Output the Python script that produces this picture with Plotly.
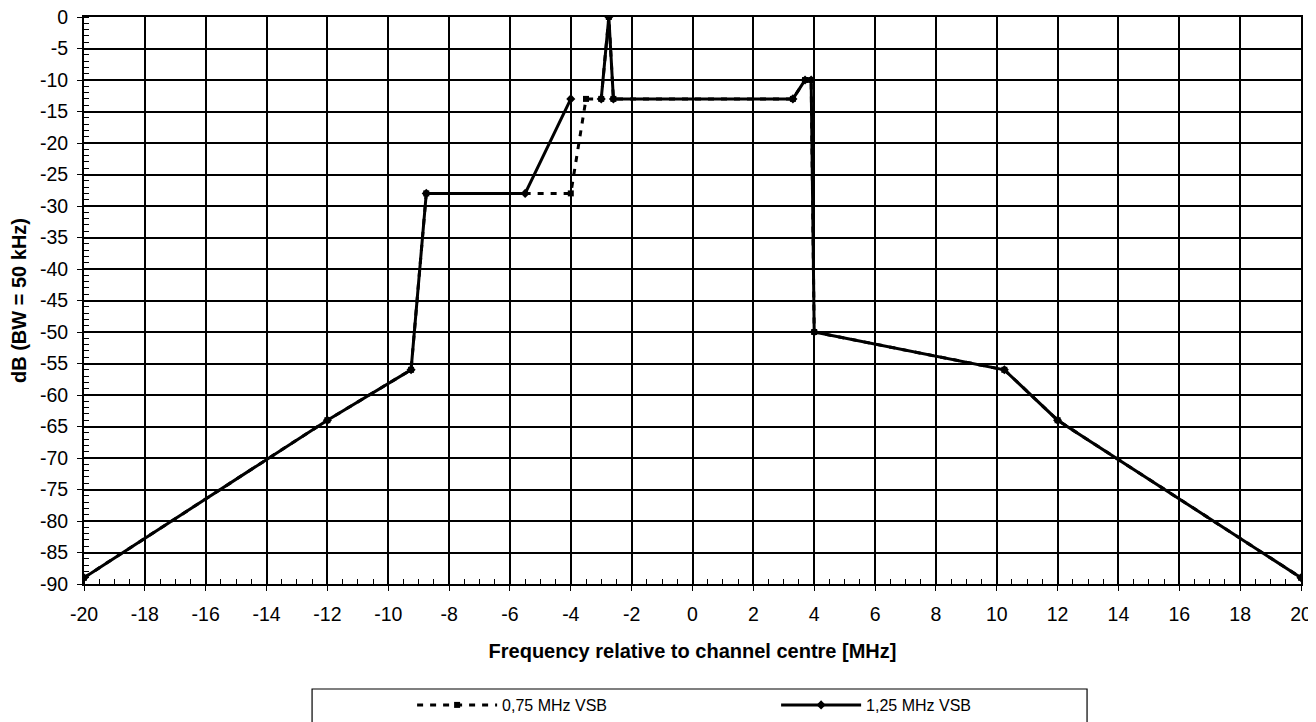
import plotly.graph_objects as go

# 0,75 MHz VSB (dashed, square markers)
freq_075 = [-20, -12, -9.25, -8.75, -4, -3.5, -3, -2.75, -2.6, 3.3, 3.7, 3.9, 4, 10.25, 12, 20]
db_075 = [-89, -64, -56, -28, -28, -13, -13, 0, -13, -13, -10, -10, -50, -56, -64, -89]

# 1,25 MHz VSB (solid, diamond markers)
freq_125 = [-20, -12, -9.25, -8.75, -5.5, -4, None, -3, -2.75, -2.6, 3.3, 3.7, 3.9, 4, 10.25, 12, 20]
db_125 = [-89, -64, -56, -28, -28, -13, None, -13, 0, -13, -13, -10, -10, -50, -56, -64, -89]

x_ticks = list(range(-20, 21, 2))
y_ticks = list(range(0, -91, -5))

FONT = "Liberation Sans, Arial, sans-serif"

fig = go.Figure()
fig.add_trace(go.Scatter(
    x=freq_125, y=db_125, mode="lines+markers", name="1,25 MHz VSB",
    line=dict(color="black", width=3),
    marker=dict(symbol="diamond", size=7, color="black"),
    connectgaps=False,
))
fig.add_trace(go.Scatter(
    x=freq_075, y=db_075, mode="lines+markers", name="0,75 MHz VSB",
    line=dict(color="black", width=3, dash="6px,7px"),
    marker=dict(symbol="square", size=6, color="black"),
))

axis_common = dict(
    showline=True, linecolor="black", linewidth=2, mirror=True,
    showgrid=True, gridcolor="black", gridwidth=1.8,
    zeroline=False, ticks="outside", ticklen=5, tickcolor="black",
    tickfont=dict(family=FONT, size=19.5, color="black"),
    ticklabeloverflow="allow",
)

fig.update_xaxes(
    range=[-20, 20], tickmode="array", tickvals=x_ticks,
    ticktext=[str(v) for v in x_ticks],
    ticklabelstandoff=7,
    minor=dict(dtick=0.5, ticks="inside", ticklen=5, tickcolor="black", showgrid=False),
    title=dict(text="<b>Frequency relative to channel centre [MHz]</b>",
               font=dict(family=FONT, size=20, color="black"), standoff=20),
    **axis_common,
)
fig.update_yaxes(
    range=[-90, 0], tickmode="array", tickvals=y_ticks,
    ticktext=[str(v) for v in y_ticks],
    ticklabelstandoff=5,
    minor=dict(dtick=1, ticks="inside", ticklen=5, tickcolor="black", showgrid=False),
    title=dict(text="<b>dB (BW = 50 kHz)</b>",
               font=dict(family=FONT, size=20, color="black"), standoff=8),
    **axis_common,
)

# legend frame
fig.add_shape(type="rect", xref="paper", yref="paper",
              x0=0.1874, x1=0.8242, y0=-0.30, y1=-0.1852,
              line=dict(color="black", width=1.2), fillcolor="rgba(0,0,0,0)")

fig.update_layout(
    width=1316, height=722,
    margin=dict(l=76, r=23, t=9, b=146, autoexpand=False),
    paper_bgcolor="white", plot_bgcolor="white",
    font=dict(family=FONT, size=16, color="black"),
    legend=dict(
        orientation="h", x=0.2696, xanchor="left", y=-0.2134, yanchor="middle",
        traceorder="reversed", itemwidth=80, entrywidth=269, entrywidthmode="pixels",
        font=dict(family=FONT, size=16, color="black"),
        bgcolor="rgba(0,0,0,0)", borderwidth=0,
    ),
)

fig.write_html("out.html")
